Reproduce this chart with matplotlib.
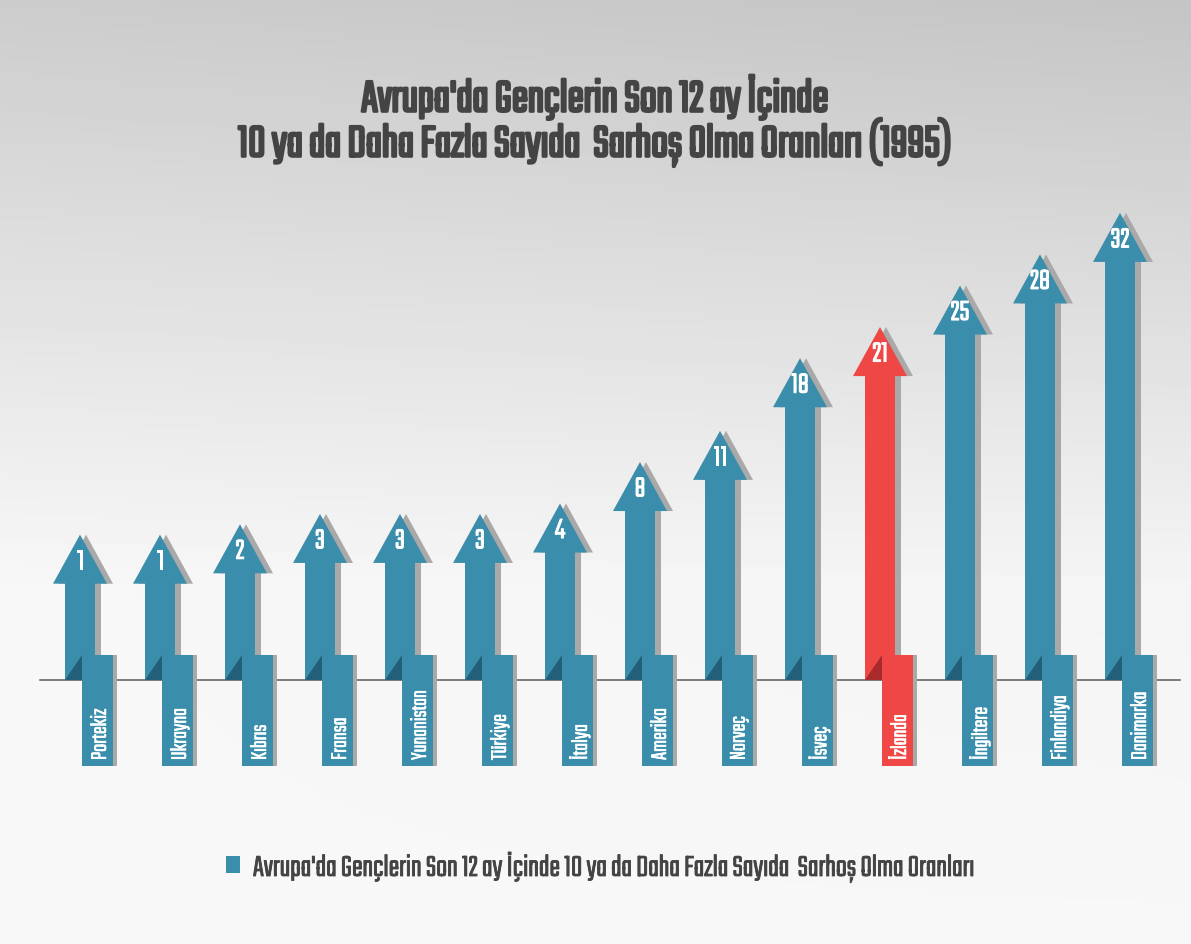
import matplotlib
matplotlib.use("Agg")
import matplotlib.pyplot as plt
from matplotlib.patches import Polygon, Rectangle, Patch
from matplotlib import font_manager
import matplotlib.patheffects as pe
import numpy as np

# ---------------- data ----------------
countries = ["Portekiz", "Ukrayna", "Kıbrıs", "Fransa", "Yunanistan", "Türkiye", "İtalya",
             "Amerika", "Norveç", "İsveç", "İzlanda", "İngiltere", "Finlandiya", "Danimarka"]
values = [1, 1, 2, 3, 3, 3, 4, 8, 11, 18, 21, 25, 28, 32]
highlight = "İzlanda"
title_lines = ["Avrupa'da Gençlerin Son 12 ay İçinde",
               "10 ya da Daha Fazla Sayıda  Sarhoş Olma Oranları (1995)"]
legend_label = "Avrupa'da Gençlerin Son 12 ay İçinde 10 ya da Daha Fazla Sayıda  Sarhoş Olma Oranları"

# ---------------- style ----------------
names = {f.name for f in font_manager.fontManager.ttflist}
cands = ['Teko', 'Saira Extra Condensed', 'Roboto Condensed']
fam = [c for c in cands if c in names] + ['DejaVu Sans']
plt.rcParams['font.family'] = fam

TEAL = "#3a8eab"
TEAL_DARK = "#22607a"
RED = "#ef4646"
RED_DARK = "#a82a2a"
SHADOW = "#a9a9a9"
TEXT = "#444444"

def heavy(color, w):
    return [pe.withStroke(linewidth=w, foreground=color)]

W, H, DPI = 1191, 944, 100
fig = plt.figure(figsize=(W / DPI, H / DPI), dpi=DPI)

# background gradient
bg = fig.add_axes([0, 0, 1, 1], zorder=-5)
yy = np.linspace(0, 1, 300)[:, None]
xx = np.linspace(0, 1, 300)[None, :]
grad = 0.80 + 0.17 * np.clip(yy / 0.62, 0, 1) - 0.03 * xx * (1 - yy)
grad = np.clip(grad, 0, 0.975)
bg.imshow(grad, cmap="gray", vmin=0, vmax=1, aspect="auto", extent=[0, 1, 0, 1], origin="upper")
bg.set_axis_off()

# main axes (pixel calibrated scale)
ax = fig.add_axes([0, 0, 1, 1])
ax.set_facecolor("none")
px_x = 80.0          # pixels per category
px_y = 10.38         # pixels per unit of value
base = -13.0         # axis origin (baseline)
x0_px = 80.0         # pixel position of first category
base_px = H - 680.0  # pixel height of baseline from bottom
ax.set_xlim(-x0_px / px_x, (W - x0_px) / px_x)
ax.set_ylim(base - base_px / px_y, base + (H - base_px) / px_y)
ax.set_axis_off()

def dx(p):
    return p / px_x

def dy(p):
    return p / px_y

sw = dx(15)      # shaft half width
hw = dx(27)      # head half width
hh = dy(49)      # head height
sh = dx(6)       # shadow offset
box_l, box_r = dx(2), dx(33)
box_top = base + dy(25)
box_bot = base - dy(86)

ax.plot([dx(40 - x0_px), dx(1180 - x0_px)], [base, base], color="#5a5a5a", lw=1.1, zorder=1)

for i, (c, v) in enumerate(zip(countries, values)):
    col = RED if c == highlight else TEAL
    dcol = RED_DARK if c == highlight else TEAL_DARK
    x = i
    pts = [(x - sw, base), (x - sw, v - hh), (x - hw, v - hh), (x, v),
           (x + hw, v - hh), (x + sw, v - hh), (x + sw, base)]
    shadow_pts = [(px + sh, py) for px, py in pts]
    ax.add_patch(Polygon(shadow_pts, closed=True, fc=SHADOW, ec="none", zorder=2))
    ax.add_patch(Polygon(pts, closed=True, fc=col, ec="none", zorder=3))
    ax.add_patch(Polygon([(x - sw, base), (x + box_l, box_top), (x + box_l, base)],
                         closed=True, fc=dcol, ec="none", zorder=4))
    ax.add_patch(Rectangle((x + box_l + dx(4), box_bot), box_r - box_l, box_top - box_bot,
                           fc=SHADOW, ec="none", zorder=4))
    ax.add_patch(Rectangle((x + box_l, box_bot), box_r - box_l, box_top - box_bot,
                           fc=col, ec="none", zorder=5))
    ax.text(x + (box_l + box_r) / 2 + dx(1.5), box_bot + dy(6), c, rotation=90, ha="center", va="bottom",
            color="white", fontsize=17, fontweight="bold", zorder=6, path_effects=heavy("white", 0.4))
    ax.text(x, v - dy(26), str(v), ha="center", va="center", color="white",
            fontsize=22, fontweight="bold", zorder=6, path_effects=heavy("white", 0.7))

fig.text(0.5, 1 - 97 / H, title_lines[0], ha="center", va="center",
         fontsize=35, fontweight="bold", color=TEXT, path_effects=heavy(TEXT, 1.9))
fig.text(0.5, 1 - 142 / H, title_lines[1], ha="center", va="center",
         fontsize=35, fontweight="bold", color=TEXT, path_effects=heavy(TEXT, 1.9))

leg = fig.legend(handles=[Patch(fc=TEAL, ec="none")], labels=[legend_label], loc="center",
                 bbox_to_anchor=(600 / W, 1 - 867 / H), frameon=False, fontsize=23,
                 handlelength=0.45, handleheight=0.45, handletextpad=0.4)
for t in leg.get_texts():
    t.set_color(TEXT)
    t.set_path_effects(heavy(TEXT, 0.6))

fig.savefig("out.png", dpi=DPI)
